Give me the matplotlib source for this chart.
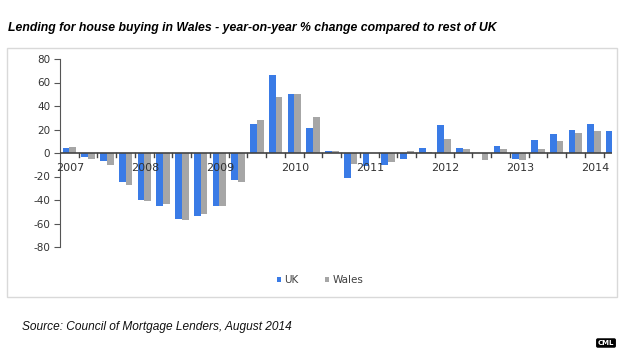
import numpy as np
import matplotlib
matplotlib.use("Agg")
import matplotlib.pyplot as plt
from matplotlib.patches import Rectangle

plt.rcParams["axes.unicode_minus"] = False

# quarterly data, 2007 Q1 .. 2014 Q2
years = ["2007", "2008", "2009", "2010", "2011", "2012", "2013", "2014"]
uk = [4, -3, -7, -25, -40, -45, -56, -54,
      -45, -23, 25, 66, 50, 21, 2, -21,
      -11, -10, -5, 4.5, 24, 4, 0, 6,
      -5, 11, 16, 20, 25, 19]
wales = [5.5, -5.5, -10, -27, -41, -43, -57, -52,
         -45, -25, 28, 48, 50, 31, 1.5, -9,
         0, -8, 2, 1, 12, 3, -6, 3.5,
         -6, 3.5, 10, 17, 19, np.nan]

W, H = 621, 351
fig = plt.figure(figsize=(W / 100, H / 100), dpi=100)
fig.patch.set_facecolor("white")

# light outer frame around chart area
fig.add_artist(Rectangle((7 / W, 1 - 297 / H), 610 / W, 249 / H,
                         transform=fig.transFigure, fill=False,
                         edgecolor="#d9d9d9", linewidth=1))

ax = fig.add_axes([60 / W, 1 - 247 / H, 552 / W, 188 / H])
x = np.arange(len(uk))
bw = 0.36
ax.bar(x - bw / 2, uk, bw, color="#3a7be6", label="UK")
ax.bar(x + bw / 2, wales, bw, color="#a6a6a6", label="Wales")

ax.set_xlim(-0.5, 28.95)
ax.set_ylim(-80, 80)
ax.set_yticks(range(-80, 81, 20))
ax.tick_params(axis="y", labelsize=7.5, labelcolor="#333333", length=4,
               color="#555555", pad=3)
for s in ["top", "right", "bottom"]:
    ax.spines[s].set_visible(False)
ax.spines["left"].set_color("#555555")
ax.axhline(0, color="#444444", linewidth=1.2, zorder=3)

# category boundary ticks on the zero line
ax.set_xticks([])
for b in np.arange(0.5, 28.6, 1):
    ax.plot([b, b], [0, -3.5], color="#444444", linewidth=1, zorder=3,
            clip_on=False)
for i, yr in enumerate(years):
    ax.annotate(yr, (i * 4, 0), xytext=(0.5, -7), textcoords="offset points",
                ha="center", va="top", fontsize=8, color="#333333", zorder=4)

leg = fig.legend(loc="center", bbox_to_anchor=(320 / W, 1 - 280 / H), ncol=2,
                 frameon=False, fontsize=7.5, handlelength=0.4,
                 handleheight=0.4, handletextpad=0.3, columnspacing=2.6)
for t in leg.get_texts():
    t.set_color("#404040")

fig.text(8 / W, 1 - 28 / H,
         "Lending for house buying in Wales - year-on-year % change compared to rest of UK",
         fontsize=8.85, fontweight="bold", fontstyle="italic",
         family="Liberation Sans", va="center", ha="left")
fig.text(22 / W, 1 - 327 / H, "Source: Council of Mortgage Lenders, August 2014",
         fontsize=8.6, fontstyle="italic", family="Liberation Sans",
         va="center", ha="left", color="#111111")
fig.text(606 / W, 1 - 343 / H, "CML", fontsize=5, fontweight="bold",
         family="DejaVu Sans", ha="center", va="center", color="white",
         bbox=dict(boxstyle="round,pad=0.15", fc="black", ec="black"))

fig.savefig("out.png", dpi=100)
